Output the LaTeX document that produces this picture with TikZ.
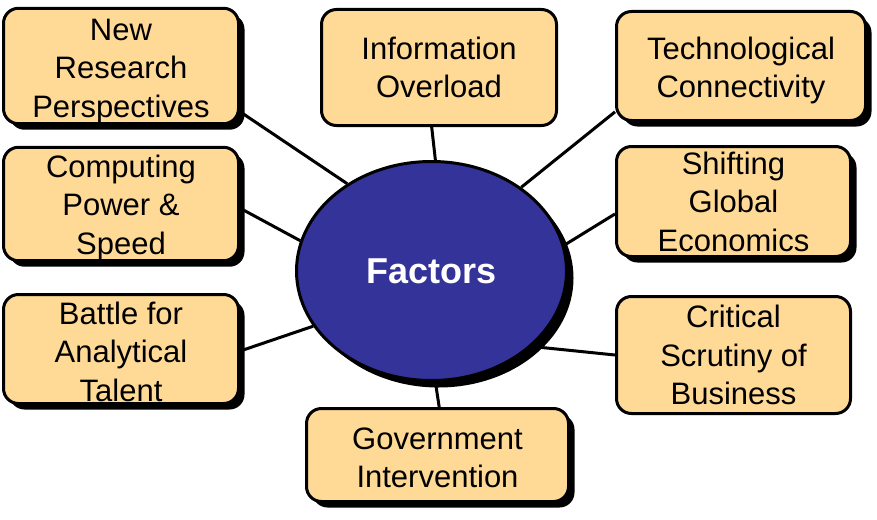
\documentclass[tikz,border=0pt]{standalone}
\usepackage{fontspec}
\setmainfont{Liberation Sans}
\usetikzlibrary{shapes.geometric,shadows,backgrounds}
\definecolor{boxfill}{HTML}{FFDA96}
\definecolor{hubfill}{HTML}{333399}
% raises the top of the first text line so the block sits a little lower
\newcommand{\toppad}[1]{\rule{0pt}{#1pt}}
\begin{document}
\begin{tikzpicture}[x=1pt,y=-1pt,
  factor/.style={draw=black, line width=3pt, fill=boxfill, rounded corners=15pt,
    inner sep=0pt, align=center, font=\fontsize{31}{38.5}\selectfont},
  shade/.style={drop shadow={shadow xshift=6pt, shadow yshift=-6pt, opacity=1, fill=black}},
  hub/.style={ellipse, draw=black, line width=3pt, fill=hubfill, inner sep=0pt,
    text=white, font=\fontsize{36}{40}\selectfont\bfseries,
    drop shadow={shadow xshift=7pt, shadow yshift=-7pt, opacity=1, fill=black}},
  link/.style={draw=black, line width=3pt}]
\useasboundingbox (0,0) rectangle (877,519);

% central hub
\node[hub, minimum width=270pt, minimum height=219pt] (el) at (431.5,271) {Factors};

% surrounding factors
\node[factor, shade, minimum width=235pt, minimum height=111pt] (nr) at (121,66) {\toppad{32}New\\Research\\Perspectives};
\node[factor, minimum width=235pt, minimum height=116pt] (io) at (439,67.5) {Information\\Overload};
\node[factor, shade, minimum width=249pt, minimum height=109pt] (tc) at (741,66) {\toppad{31}Technological\\Connectivity};
\node[factor, shade, minimum width=235pt, minimum height=109pt] (cp) at (121,204) {\toppad{30}Computing\\Power \&\\Speed};
\node[factor, shade, minimum width=234pt, minimum height=110pt] (sg) at (733.5,201.5) {Shifting\\Global\\Economics};
\node[factor, shade, minimum width=235pt, minimum height=109pt] (ba) at (121,349) {\toppad{28}Battle for\\Analytical\\Talent};
\node[factor, minimum width=234pt, minimum height=117pt] (cs) at (733.5,355) {Critical\\Scrutiny of\\Business};
\node[factor, shade, minimum width=262pt, minimum height=93pt] (gi) at (437.5,455) {\toppad{27}Government\\Intervention};

% spokes
\begin{scope}[on background layer]
  \draw[link] (el.134) -- (nr.-21);
  \draw[link] (el.88)  -- (io.-97);
  \draw[link] (el.43)  -- (tc.200);
  \draw[link] (el.167) -- (cp.-2);
  \draw[link] (el.11)  -- (sg.186);
  \draw[link] (el.205) -- (ba.-1);
  \draw[link] (el.323) -- (cs.180);
  \draw[link] (el.272) -- (gi.88);
\end{scope}
\end{tikzpicture}
\end{document}
